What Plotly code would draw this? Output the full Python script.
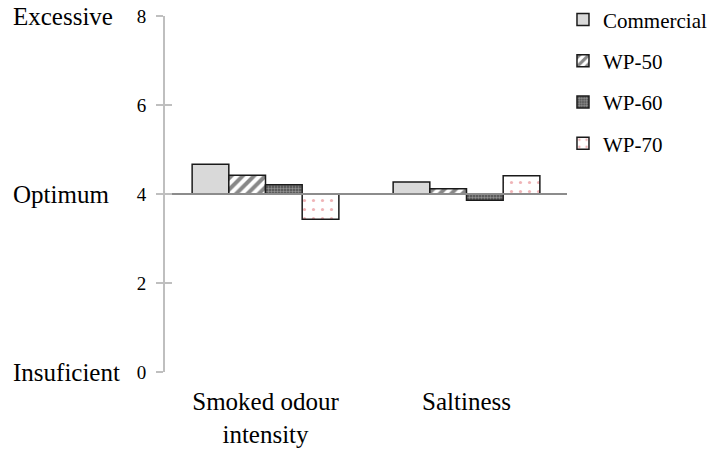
import plotly.graph_objects as go

# Sensory attributes and mean panel scores (0 = insufficient, 4 = optimum, 8 = excessive)
categories = ["Smoked odour<br>intensity", "Saltiness"]
commercial = [4.67, 4.27]
wp50 = [4.42, 4.12]
wp60 = [4.21, 3.86]
wp70 = [3.43, 4.41]

optimum = 4
y_ticks = [0, 2, 4, 6, 8]
scale_words = {8: "Excessive", 4: "Optimum", 0: "Insuficient"}

FONT = "Liberation Serif"

series = [
    ("Commercial", commercial, dict(color="#d9d9d9")),
    ("WP-50", wp50, dict(color="white", pattern=dict(shape="/", fgcolor="#111111", bgcolor="white", size=8, solidity=0.5))),
    ("WP-60", wp60, dict(color="white", pattern=dict(shape=".", fgcolor="#d8d8d8", bgcolor="#4a4a4a", size=3, solidity=0.5))),
    ("WP-70", wp70, dict(color="white", pattern=dict(shape=".", fgcolor="#e06a70", bgcolor="white", size=9, solidity=0.1))),
]

fig = go.Figure()
for name, vals, marker in series:
    fig.add_trace(go.Bar(
        name=name,
        x=categories,
        y=[v - optimum for v in vals],
        base=[optimum] * len(vals),
        marker=dict(**marker, line=dict(color="#1a1a1a", width=1.5)),
        legendgroup=name,
    ))

# Helper traces so the reference line at the optimum and the inner tick marks are drawn
fig.add_trace(go.Scatter(x=categories, y=[None, None], xaxis="x2", yaxis="y",
                         showlegend=False, hoverinfo="skip"))
fig.add_trace(go.Scatter(x=categories, y=[None, None], xaxis="x", yaxis="y2",
                         showlegend=False, hoverinfo="skip"))

for val, word in scale_words.items():
    fig.add_annotation(text=word, x=-0.383, xref="paper", xanchor="left",
                       y=val, yref="y", yanchor="middle", showarrow=False,
                       font=dict(family=FONT, size=25, color="black"))

fig.update_layout(
    width=710, height=451,
    margin=dict(l=165, r=143, t=16, b=79, autoexpand=False),
    paper_bgcolor="white", plot_bgcolor="white",
    barmode="group", bargap=0.27, bargroupgap=0,
    font=dict(family=FONT, color="black"),
    showlegend=True,
    legend=dict(x=0.99, y=1.047, xanchor="left", yanchor="top",
                font=dict(family=FONT, size=21, color="black"),
                traceorder="grouped", tracegroupgap=11, itemwidth=30),
    xaxis=dict(showline=False, showgrid=False, zeroline=False, ticks="",
               tickfont=dict(family=FONT, size=25, color="black"),
               ticklabelstandoff=12, fixedrange=True),
    xaxis2=dict(overlaying="x", matches="x", anchor="free", position=0.5,
                showline=True, linecolor="#8c8c8c", linewidth=2,
                showticklabels=False, ticks="", showgrid=False, zeroline=False),
    yaxis=dict(range=[0, 8], tickvals=y_ticks, showgrid=False, zeroline=False,
               showline=True, linecolor="#bfbfbf", linewidth=2,
               ticks="outside", ticklen=7, tickwidth=2, tickcolor="#bfbfbf",
               ticklabelstandoff=6,
               tickfont=dict(family=FONT, size=19, color="black")),
    yaxis2=dict(overlaying="y", matches="y", anchor="x", side="left",
                tickvals=y_ticks, ticks="inside", ticklen=7, tickwidth=2,
                tickcolor="#bfbfbf", showticklabels=False, showgrid=False,
                zeroline=False, showline=False),
)

fig.write_html("out.html")
